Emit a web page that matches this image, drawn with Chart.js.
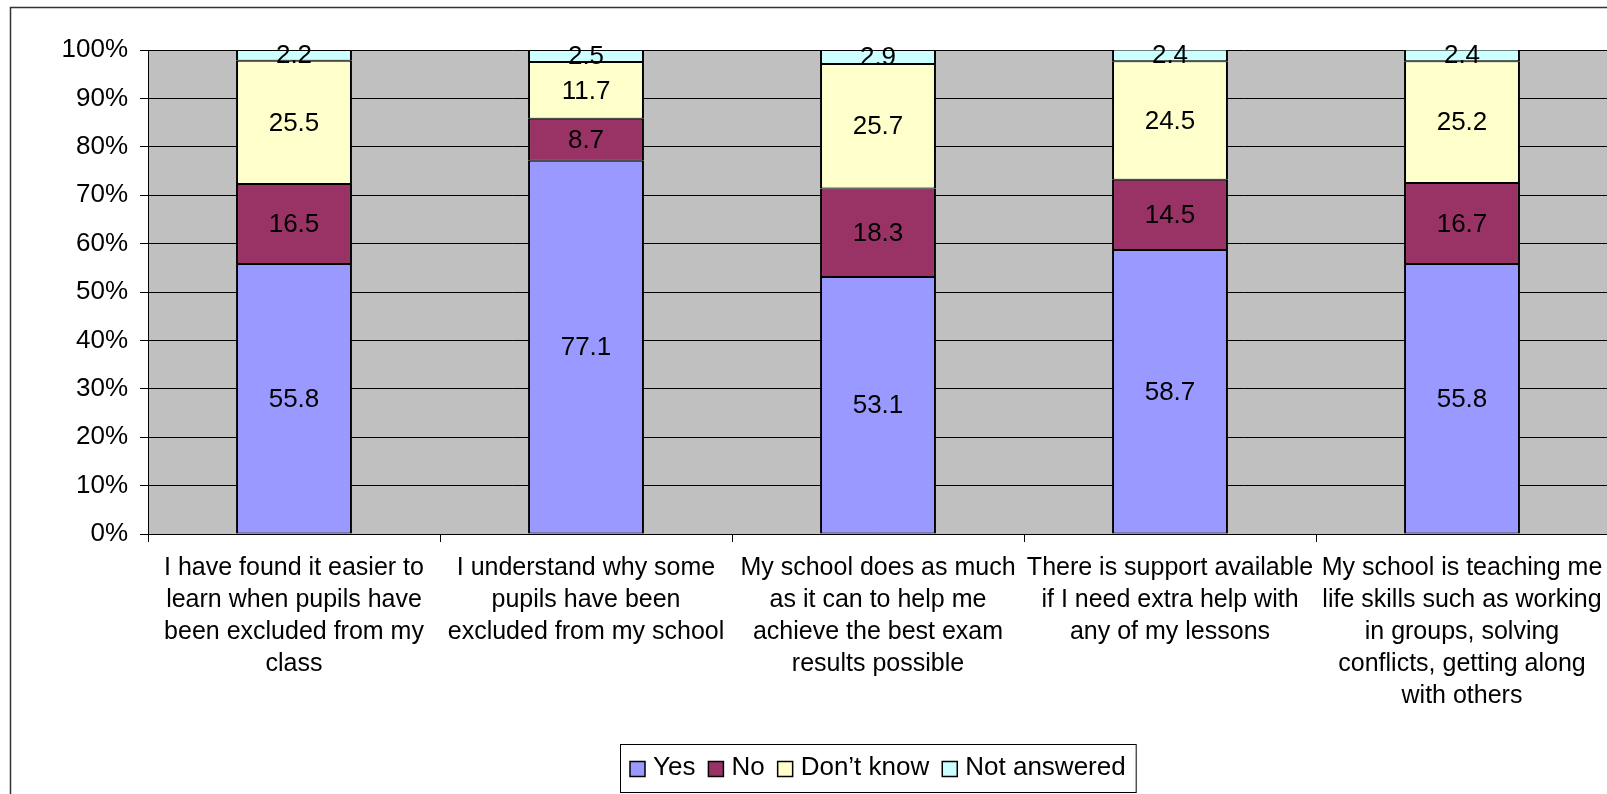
<!DOCTYPE html>
<html>
<head>
<meta charset="utf-8">
<script src="https://cdn.jsdelivr.net/npm/chart.js@4"></script>
<style>
  html, body { margin: 0; padding: 0; background: #fff; overflow: hidden; }
  #wrap { width: 1714px; height: 794px; }
</style>
</head>
<body>
<div id="wrap"><canvas id="chart" width="1714" height="794"></canvas></div>
<script>
const categories = [
  ["I have found it easier to", "learn when pupils have", "been excluded from my", "class"],
  ["I understand why some", "pupils have been", "excluded from my school"],
  ["My school does as much", "as it can to help me", "achieve the best exam", "results possible"],
  ["There is support available", "if I need extra help with", "any of my lessons"],
  ["My school is teaching me", "life skills such as working", "in groups, solving", "conflicts, getting along", "with others"]
];
const seriesNames = ["Yes", "No", "Don\u2019t know", "Not answered"];
const yesValues = [55.8, 77.1, 53.1, 58.7, 55.8];
const noValues = [16.5, 8.7, 18.3, 14.5, 16.7];
const dontKnowValues = [25.5, 11.7, 25.7, 24.5, 25.2];
const notAnsweredValues = [2.2, 2.5, 2.9, 2.4, 2.4];
const seriesColors = ["#9999FF", "#993366", "#FFFFCC", "#CCFFFF"];
const yMax = 100;
const yStep = 10;

const FONT = "'Liberation Sans', Arial, sans-serif";

const frame = {
  id: "frame",
  beforeDraw(chart) {
    const ctx = chart.ctx;
    ctx.save();
    ctx.fillStyle = "#fff";
    ctx.fillRect(0, 0, chart.width, chart.height);
    ctx.strokeStyle = "#333";
    ctx.lineWidth = 1.5;
    ctx.strokeRect(10.5, 7.5, chart.width - 21, chart.height + 40);
    const a = chart.chartArea;
    ctx.fillStyle = "#C0C0C0";
    ctx.fillRect(a.left, a.top, a.right - a.left, a.bottom - a.top);
    ctx.restore();
  }
};

const valueLabels = {
  id: "valueLabels",
  afterDatasetsDraw(chart) {
    const ctx = chart.ctx;
    ctx.save();
    ctx.font = "26px " + FONT;
    ctx.fillStyle = "#000";
    ctx.textAlign = "center";
    ctx.textBaseline = "middle";
    chart.data.datasets.forEach((ds, i) => {
      chart.getDatasetMeta(i).data.forEach((bar, j) => {
        const y = (bar.y + bar.base) / 2;
        ctx.fillText(ds.data[j].toFixed(1), bar.x, y + 1);
      });
    });
    ctx.restore();
  }
};

const boxLegend = {
  id: "boxLegend",
  afterDraw(chart) {
    const ctx = chart.ctx;
    ctx.save();
    ctx.font = "26px " + FONT;
    const sq = 15, gapText = 8, gapItem = 13, padX = 10;
    const items = chart.data.datasets.map(ds => ({
      label: ds.label, color: ds.backgroundColor, w: ctx.measureText(ds.label).width
    }));
    let total = 0;
    items.forEach((it, k) => { total += sq + gapText + it.w + (k < items.length - 1 ? gapItem : 0); });
    const boxW = total + padX * 2;
    const boxH = 48;
    const a = chart.chartArea;
    const cx = (a.left + a.right) / 2;
    const left = Math.round(cx - boxW / 2);
    const top = 744;
    const midY = top + boxH / 2;
    ctx.fillStyle = "#fff";
    ctx.fillRect(left, top, boxW, boxH);
    ctx.strokeStyle = "#000";
    ctx.lineWidth = 1;
    ctx.strokeRect(left + 0.5, top + 0.5, boxW, boxH);
    let x = left + padX;
    ctx.textBaseline = "middle";
    ctx.textAlign = "left";
    items.forEach(it => {
      ctx.fillStyle = it.color;
      ctx.fillRect(x, midY - sq / 2 + 1, sq, sq);
      ctx.strokeStyle = "#000";
      ctx.lineWidth = 1.5;
      ctx.strokeRect(x, midY - sq / 2 + 1, sq, sq);
      x += sq + gapText;
      ctx.fillStyle = "#000";
      ctx.fillText(it.label, x, midY);
      x += it.w + gapItem;
    });
    ctx.restore();
  }
};

const seriesValues = [yesValues, noValues, dontKnowValues, notAnsweredValues];

new Chart(document.getElementById("chart"), {
  type: "bar",
  data: {
    labels: categories,
    datasets: seriesNames.map((name, i) => ({
      label: name,
      data: seriesValues[i],
      backgroundColor: seriesColors[i],
      borderColor: "#000",
      borderWidth: { top: 1, bottom: 1, left: 2, right: 2 },
      borderSkipped: false,
      categoryPercentage: 1,
      barPercentage: 0.397
    }))
  },
  options: {
    responsive: false,
    animation: false,
    layout: { padding: { left: 0, top: 50, right: 106, bottom: 0 } },
    plugins: {
      legend: { display: false },
      tooltip: { enabled: false }
    },
    scales: {
      x: {
        stacked: true,
        afterFit(scale) { scale.height = 260; },
        grid: { offset: true, drawOnChartArea: false, drawTicks: true, tickLength: 8, color: "#000" },
        border: { color: "#000", width: 1 },
        ticks: {
          color: "#000",
          maxRotation: 0,
          autoSkip: false,
          padding: 10,
          font: { family: FONT, size: 25, lineHeight: 1.28 }
        }
      },
      y: {
        stacked: true,
        min: 0,
        max: yMax,
        afterFit(scale) { scale.width = 148; },
        grid: { color: "#000", lineWidth: 1, tickLength: 8 },
        border: { color: "#000", width: 1 },
        ticks: {
          stepSize: yStep,
          color: "#000",
          padding: 12,
          font: { family: FONT, size: 26 },
          callback: v => v + "%"
        }
      }
    }
  },
  plugins: [frame, valueLabels, boxLegend]
});
</script>
</body>
</html>
